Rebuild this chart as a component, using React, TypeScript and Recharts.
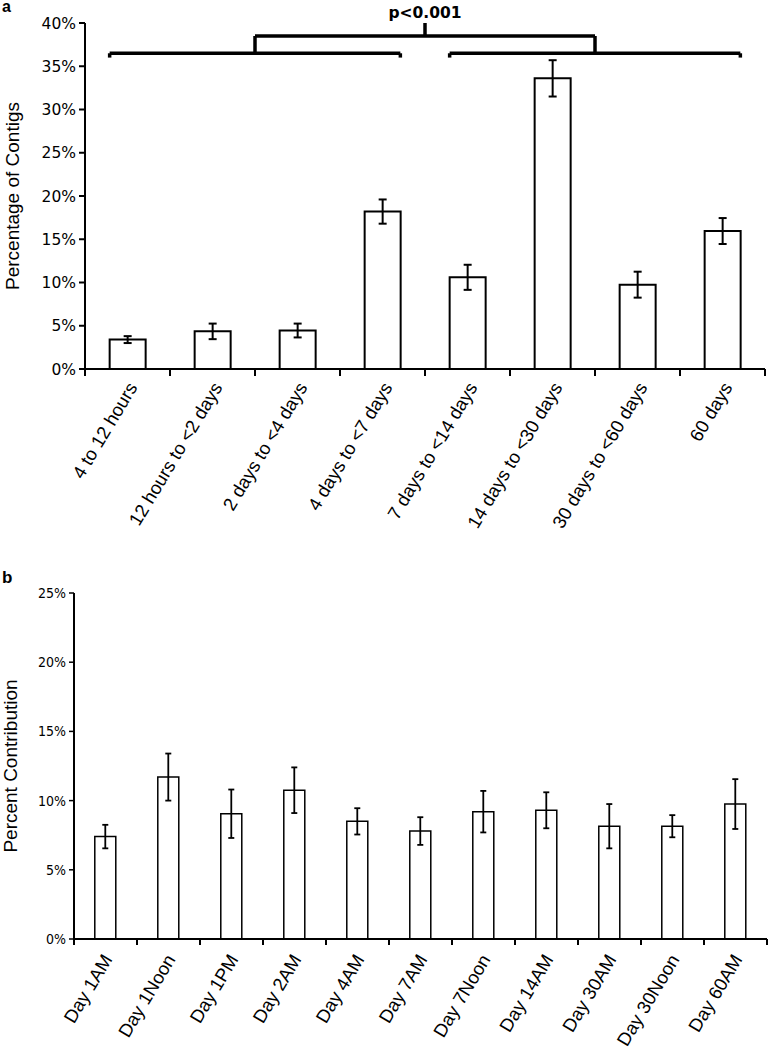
import { BarChart, Bar, XAxis, YAxis, ErrorBar, ReferenceLine } from 'recharts';

// panel a: contig persistence
const durationCats = [
  '4 to 12 hours',
  '12 hours to <2 days',
  '2 days to <4 days',
  '4 days to <7 days',
  '7 days to <14 days',
  '14 days to <30 days',
  '30 days to <60 days',
  '60 days',
];
const contigPct = [3.4, 4.35, 4.45, 18.2, 10.6, 33.6, 9.75, 15.95];
const contigErr = [0.4, 0.9, 0.8, 1.4, 1.45, 2.1, 1.5, 1.5];
const ticksA = [0, 5, 10, 15, 20, 25, 30, 35, 40];

// significance bracket: two groups of categories
const bracketGroups = [
  { from: 0, to: 3 },
  { from: 4, to: 7 },
];
const bracketLow = 36.5;
const bracketHigh = 38.5;
const bracketTop = 40;
const hookDrop = 0.5;
const pLabel = 'p<0.001';

// panel b: sample contribution
const sampleCats = [
  'Day 1AM',
  'Day 1Noon',
  'Day 1PM',
  'Day 2AM',
  'Day 4AM',
  'Day 7AM',
  'Day 7Noon',
  'Day 14AM',
  'Day 30AM',
  'Day 30Noon',
  'Day 60AM',
];
const contribPct = [7.4, 11.7, 9.05, 10.75, 8.5, 7.8, 9.2, 9.3, 8.15, 8.15, 9.75];
const contribErr = [0.85, 1.7, 1.75, 1.65, 0.95, 1.0, 1.5, 1.3, 1.6, 0.8, 1.8];
const ticksB = [0, 5, 10, 15, 20, 25];

// pos = band centre on a 0..n numeric scale; that axis carries labels, boundary ticks and the bracket
const dataA = durationCats.map((name, i) => ({ name, pos: i + 0.5, pct: contigPct[i], err: contigErr[i] }));
const dataB = sampleCats.map((name, i) => ({ name, pos: i + 0.5, pct: contribPct[i], err: contribErr[i] }));

const TICK_FONT = '"DejaVu Sans", sans-serif';
const TICK_FONT_B = '"DejaVu Sans Condensed", "DejaVu Sans", sans-serif';
const TXT_FONT = '"Liberation Sans", Arial, sans-serif';
const pct = (v: number) => `${v}%`;

// ticks at every half step: whole steps are band edges (short mark), half steps carry the label
const halfSteps = (n: number) => Array.from({ length: 2 * n + 1 }, (_, i) => i / 2);

function BandTick(props: any) {
  const { x, y, payload, cats, len = 7, gap = 15, dx = 5 } = props;
  const v = payload.value as number;
  if (Number.isInteger(v)) {
    return <line x1={x} x2={x} y1={y} y2={y + len} stroke="#000" strokeWidth={2} />;
  }
  return (
    <g transform={`translate(${x + dx},${y + gap})`}>
      <text
        transform="rotate(-59)"
        textAnchor="end"
        dy="0.35em"
        fontSize={18.5}
        fontFamily={TXT_FONT}
        fill="#000"
      >
        {cats[Math.floor(v)]}
      </text>
    </g>
  );
}

const BAR_HALF_A = 0.21;

function PanelA() {
  const n = durationCats.length;
  const ends = bracketGroups.map((g) => ({
    x1: g.from + 0.5 - BAR_HALF_A,
    x2: g.to + 0.5 + BAR_HALF_A,
    mid: (g.from + g.to + 1) / 2,
  }));
  const center = (ends[0].mid + ends[1].mid) / 2;
  const line = { stroke: '#000', strokeWidth: 3.5 };

  return (
    <BarChart
      width={770}
      height={560}
      data={dataA}
      margin={{ top: 23, right: 5, left: 0, bottom: 0 }}
      barCategoryGap="29%"
    >
      <XAxis
        dataKey="pos"
        type="number"
        domain={[0, n]}
        allowDataOverflow
        ticks={halfSteps(n)}
        interval={0}
        tick={<BandTick cats={durationCats} len={7} gap={15} dx={5} />}
        tickSize={0}
        tickMargin={0}
        tickLine={false}
        axisLine={{ stroke: '#000', strokeWidth: 2 }}
        height={191}
      />
      <XAxis xAxisId="cat" dataKey="name" hide />
      <YAxis
        domain={[0, 40]}
        ticks={ticksA}
        width={85}
        tickFormatter={pct}
        tickSize={6}
        tickMargin={3}
        tickLine={{ stroke: '#000', strokeWidth: 2 }}
        axisLine={{ stroke: '#000', strokeWidth: 2 }}
        tick={{ fontSize: 15.5, fontFamily: TICK_FONT, fill: '#000' }}
        label={{
          value: 'Percentage of Contigs',
          angle: -90,
          position: 'insideLeft',
          offset: 12,
          style: { textAnchor: 'middle', fontSize: 19, fontFamily: TXT_FONT, fill: '#000' },
        }}
      />
      <Bar xAxisId="cat" dataKey="pct" fill="#fff" stroke="#000" strokeWidth={2} isAnimationActive={false}>
        <ErrorBar dataKey="err" width={4} stroke="#000" strokeWidth={2} />
      </Bar>
      {ends.map((e, i) => (
        <ReferenceLine key={`low${i}`} segment={[{ x: e.x1, y: bracketLow }, { x: e.x2, y: bracketLow }]} {...line} />
      ))}
      {ends.flatMap((e, i) =>
        [e.x1, e.x2].map((xv, j) => (
          <ReferenceLine
            key={`hook${i}-${j}`}
            segment={[{ x: xv, y: bracketLow }, { x: xv, y: bracketLow - hookDrop }]}
            {...line}
          />
        ))
      )}
      {ends.map((e, i) => (
        <ReferenceLine key={`leg${i}`} segment={[{ x: e.mid, y: bracketLow }, { x: e.mid, y: bracketHigh }]} {...line} />
      ))}
      <ReferenceLine segment={[{ x: ends[0].mid, y: bracketHigh }, { x: ends[1].mid, y: bracketHigh }]} {...line} />
      <ReferenceLine
        segment={[{ x: center, y: bracketHigh }, { x: center, y: bracketTop }]}
        {...line}
        label={{
          value: pLabel,
          position: 'top',
          offset: 5,
          fontSize: 15.5,
          fontWeight: 'bold',
          fontFamily: TICK_FONT,
          fill: '#000',
        }}
      />
    </BarChart>
  );
}

function PanelB() {
  const n = sampleCats.length;
  return (
    <BarChart
      width={770}
      height={491}
      data={dataB}
      margin={{ top: 33, right: 3, left: 0, bottom: 0 }}
      barCategoryGap="33%"
    >
      <XAxis
        dataKey="pos"
        type="number"
        domain={[0, n]}
        allowDataOverflow
        ticks={halfSteps(n)}
        interval={0}
        tick={<BandTick cats={sampleCats} len={6} gap={17} dx={2} />}
        tickSize={0}
        tickMargin={0}
        tickLine={false}
        axisLine={{ stroke: '#000', strokeWidth: 2 }}
        height={112}
      />
      <XAxis xAxisId="cat" dataKey="name" hide />
      <YAxis
        domain={[0, 25]}
        ticks={ticksB}
        width={74}
        tickFormatter={pct}
        tickSize={5}
        tickMargin={3}
        tickLine={{ stroke: '#000', strokeWidth: 1.5 }}
        axisLine={{ stroke: '#000', strokeWidth: 2 }}
        tick={{ fontSize: 14, fontFamily: TICK_FONT_B, fill: '#000' }}
        label={{
          value: 'Percent Contribution',
          angle: -90,
          position: 'insideLeft',
          offset: 10,
          style: { textAnchor: 'middle', fontSize: 19, fontFamily: TXT_FONT, fill: '#000' },
        }}
      />
      <Bar xAxisId="cat" dataKey="pct" fill="#fff" stroke="#000" strokeWidth={1.5} isAnimationActive={false}>
        <ErrorBar dataKey="err" width={3} stroke="#000" strokeWidth={1.8} />
      </Bar>
    </BarChart>
  );
}

export default function App() {
  return (
    <div style={{ position: 'absolute', left: 0, top: 0, width: 770, height: 1051, background: '#fff' }}>
      <div style={{ position: 'absolute', left: 0, top: 0 }}>
        <PanelA />
      </div>
      <div style={{ position: 'absolute', left: 0, top: 560 }}>
        <PanelB />
      </div>
      <div style={{ position: 'absolute', left: 2, top: -2, fontFamily: TXT_FONT, fontWeight: 'bold', fontSize: 16 }}>a</div>
      <div style={{ position: 'absolute', left: 2, top: 568, fontFamily: TXT_FONT, fontWeight: 'bold', fontSize: 17 }}>b</div>
    </div>
  );
}
